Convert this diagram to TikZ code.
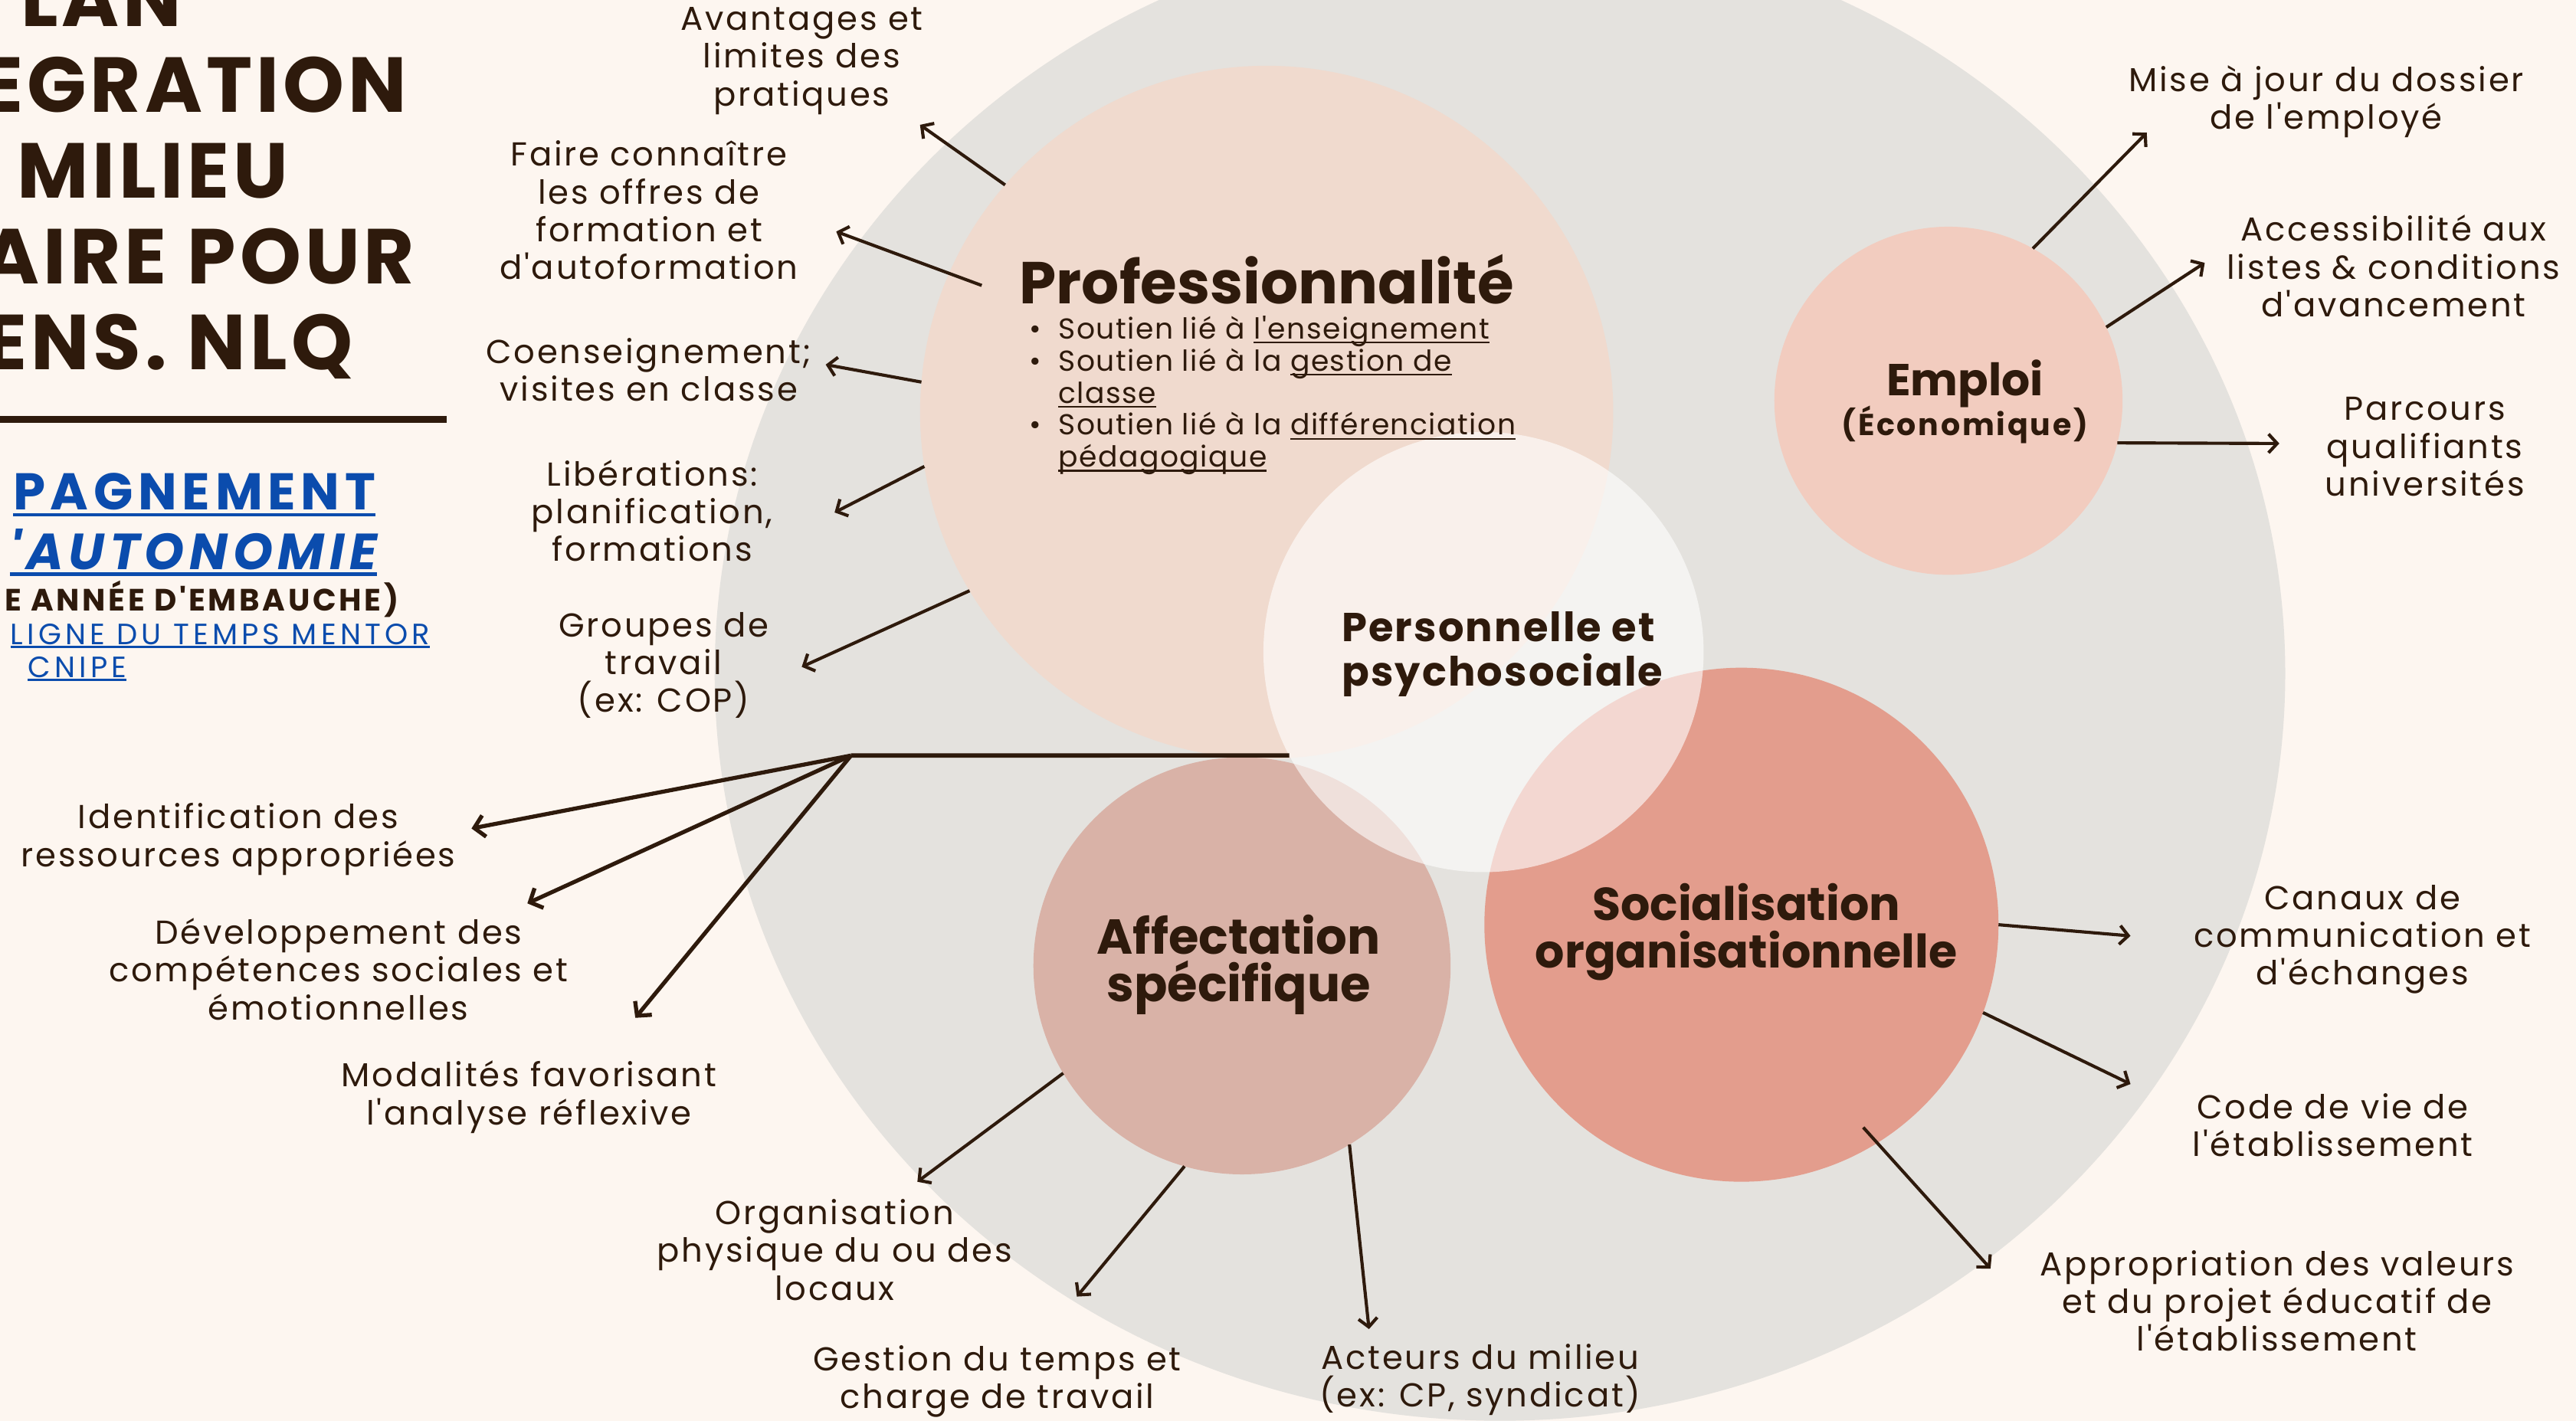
\documentclass[tikz,border=0pt]{standalone}
\usepackage{fontspec}
\setmainfont{Poppins}[Ligatures=TeXOff]
\usetikzlibrary{arrows.meta,calc}
\definecolor{bgc}{HTML}{FDF6F0}
\definecolor{grayc}{HTML}{E4E2DE}
\definecolor{profc}{HTML}{F0DACE}
\definecolor{emplc}{HTML}{F2CCBF}
\definecolor{affc}{HTML}{D9B2A7}
\definecolor{socc}{HTML}{E39D8D}
\definecolor{ink}{HTML}{2E1A0C}
\definecolor{blu}{HTML}{0B4CAD}
\newcommand\bul{\makebox[10.2pt][l]{\textbullet}}
\newcommand\nob{\makebox[10.2pt][l]{}}
\newcommand\myul[3]{\setbox0=\hbox{#3}\leavevmode\rlap{\rule[-#1]{\wd0}{#2}}\box0}
\newcommand\bu[1]{\myul{1.6pt}{0.6pt}{#1}}
\tikzset{
 disc/.style={circle, inner sep=0pt, outer sep=0pt, draw=none},
 lab/.style={align=center, text=ink, inner sep=0pt, font=\fontsize{11.5}{13.1}\selectfont\addfontfeatures{LetterSpace=6.4}},
 hd/.style={align=center, text=ink, inner sep=0pt},
 arr/.style={draw=ink, line width=1.1pt, -{Straight Barb[length=3pt,width=6.5pt]}},
 barr/.style={draw=ink, line width=1.4pt, -{Straight Barb[length=3.5pt,width=7.5pt]}},
 ttl/.style={anchor=base east, inner sep=0pt, text=ink, font=\fontsize{27}{27}\selectfont\bfseries\addfontfeatures{LetterSpace=5}},
}
\begin{document}
\begin{tikzpicture}[x=0.02cm,y=-0.02cm]
\useasboundingbox (0,0) rectangle (1568,865);
\fill[bgc] (0,0) rectangle (1568,865);
\begin{scope}
\clip (0,0) rectangle (1568,865);
\fill[grayc] (913,410) ellipse [x radius=478, y radius=455];
% circles
\node[disc, fill=profc, minimum size=8.44cm] (prof) at (771,251) {};
\node[disc, fill=emplc, minimum size=4.24cm] (emploi) at (1186,244) {};
\node[disc, fill=affc, minimum size=5.08cm] (aff) at (756,588) {};
\node[disc, fill=socc, minimum size=6.26cm] (soc) at (1060,563) {};
\node[disc, fill=white, fill opacity=0.6, minimum size=5.36cm] (pers) at (903,397) {};
% circle texts
\node[hd, font=\fontsize{20.5}{24}\selectfont\bfseries] (tProf) at (771,170) {Professionnalité};
\node[anchor=north west, inner sep=0pt, align=left, text=ink, font=\fontsize{10}{11.1}\selectfont\addfontfeatures{LetterSpace=4}] (tBul) at (626,192)
 {\bul Soutien lié à \bu{l'enseignement}\\
  \bul Soutien lié à la \bu{gestion de}\\
  \nob\bu{classe}\\
  \bul Soutien lié à la \bu{différenciation}\\
  \nob\bu{pédagogique}};
\node[hd, anchor=base, font=\fontsize{15.5}{18}\selectfont\bfseries] (tEmp) at (1196,241) {Emploi};
\node[hd, anchor=base, font=\fontsize{10.5}{12}\selectfont\bfseries\addfontfeatures{LetterSpace=7}] (tEco) at (1196,265) {(Économique)};
\node[align=left, text=ink, inner sep=0pt, font=\fontsize{14}{15.4}\selectfont\bfseries\addfontfeatures{LetterSpace=4}] (tPers) at (914.5,398.5) {Personnelle et\\psychosociale};
\node[hd, font=\fontsize{17}{16.5}\selectfont\bfseries] (tAff) at (754,587.5) {Affectation\\spécifique};
\node[hd, font=\fontsize{16}{16.5}\selectfont\bfseries] (tSoc) at (1063,567.5) {Socialisation\\organisationnelle};
% labels
\node[lab] (lAvant) at (488,37) {Avantages et\\limites des\\pratiques};
\node[lab] (lFaire) at (395,128) {Faire connaître\\les offres de\\formation et\\d'autoformation};
\node[lab] (lCoens) at (395,225) {Coenseignement;\\visites en classe};
\node[lab] (lLiber) at (397,311) {Libérations:\\planification,\\formations};
\node[lab] (lGroup) at (404,405) {Groupes de\\travail\\(ex: COP)};
\node[lab] (lMise) at (1416,62) {Mise à jour du dossier\\de l'employé};
\node[lab] (lAcces) at (1457,162) {Accessibilité aux\\listes \& conditions\\d'avancement};
\node[lab] (lParc) at (1476,272) {Parcours\\qualifiants\\universités};
\node[lab] (lIdent) at (145,511) {Identification des\\ressources appropriées};
\node[lab] (lDevel) at (206,590) {Développement des\\compétences sociales et\\émotionnelles};
\node[lab] (lModal) at (322,668) {Modalités favorisant\\l'analyse réflexive};
\node[lab] (lOrgan) at (508,761) {Organisation\\physique du ou des\\locaux};
\node[lab] (lGest) at (607,841) {Gestion du temps et\\charge de travail};
\node[lab] (lActeur) at (901,840) {Acteurs du milieu\\(ex: CP, syndicat)};
\node[lab] (lCanaux) at (1438,572) {Canaux de\\communication et\\d'échanges};
\node[lab] (lCode) at (1420,685) {Code de vie de\\l'établissement};
\node[lab] (lAppro) at (1386,792) {Appropriation des valeurs\\et du projet éducatif de\\l'établissement};
% arrow tips
\coordinate (tAvant) at (560,76);
\coordinate (tFaire) at (509,141);
\coordinate (tCoens) at (502.6,222);
\coordinate (tLiber) at (508,312);
\coordinate (tGroup) at (488,406);
\coordinate (tMise) at (1306.7,80.8);
\coordinate (tAcces) at (1342,160);
\coordinate (tParc) at (1387.4,270);
\coordinate (branch) at (518,460);
\coordinate (tIdent) at (287,504.4);
\coordinate (tDevel) at (321,550);
\coordinate (tModal) at (386.7,619.7);
\coordinate (tOrgan) at (558.4,719.5);
\coordinate (tGest) at (655.5,789.4);
\coordinate (tActeur) at (833.3,809.2);
\coordinate (tCanaux) at (1296.8,569.8);
\coordinate (tCode) at (1296.8,660);
\coordinate (tAppro) at (1211.6,772.4);
% arrows
\draw[arr] (prof.139) -- (tAvant);
\draw[arr] ($(prof.center)!0.9!(prof.156)$) -- (tFaire);
\draw[arr] (prof.175) -- (tCoens);
\draw[arr] (prof.189) -- (tLiber);
\draw[arr] (prof.211) -- (tGroup);
\draw[arr] (emploi.61) -- (tMise);
\draw[arr] (emploi.25) -- (tAcces);
\draw[arr] (emploi.-14) -- (tParc);
\draw[draw=ink, line width=1.5pt] (pers.208) -- (branch);
\draw[barr] (branch) -- (tIdent);
\draw[barr] (branch) -- (tDevel);
\draw[barr] (branch) -- (tModal);
\draw[arr] (aff.211) -- (tOrgan);
\draw[arr] (aff.254) -- (tGest);
\draw[arr] (aff.301) -- (tActeur);
\draw[arr] (soc.0) -- (tCanaux);
\draw[arr] (soc.-20) -- (tCode);
\draw[arr] ($(soc.center)!0.92!(soc.-59)$) -- (tAppro);
% left title block
\node[ttl] (ti1) at (111,16) {LAN};
\node[ttl] (ti2) at (248,68.3) {EGRATION};
\node[ttl] (ti3) at (176,120.5) {MILIEU};
\node[ttl] (ti4) at (252.8,172.7) {AIRE POUR};
\node[ttl] (ti5) at (215,225) {ENS. NLQ};
\draw[ink, line width=2.5pt] (-5,255.3) -- (272,255.3);
\node[anchor=base east, inner sep=0pt, text=blu, font=\fontsize{17.9}{18}\selectfont\bfseries\addfontfeatures{LetterSpace=10}] (acc) at (229,310.5)
 {\myul{2.2pt}{1.2pt}{PAGNEMENT}};
\node[anchor=base east, inner sep=0pt, text=blu, font=\fontsize{17.6}{18}\selectfont\bfseries\itshape\addfontfeatures{LetterSpace=10}] (aut) at (230,346.7)
 {\myul{2.2pt}{1.2pt}{'AUTONOMIE}};
\node[anchor=base east, inner sep=0pt, text=ink, font=\fontsize{10.7}{11}\selectfont\bfseries\addfontfeatures{LetterSpace=9}] (emb) at (243,372) {E ANNÉE D'EMBAUCHE)};
\node[anchor=base east, inner sep=0pt, text=blu, font=\fontsize{10.2}{11}\selectfont\addfontfeatures{LetterSpace=13.5}] (lig) at (262,392.3)
 {\myul{1.2pt}{0.6pt}{LIGNE DU TEMPS MENTOR}};
\node[anchor=base, inner sep=0pt, text=blu, font=\fontsize{10.2}{11}\selectfont\addfontfeatures{LetterSpace=13.5}] (cni) at (47,412.3)
 {\myul{1.2pt}{0.6pt}{CNIPE}};
\end{scope}
\end{tikzpicture}
\end{document}
